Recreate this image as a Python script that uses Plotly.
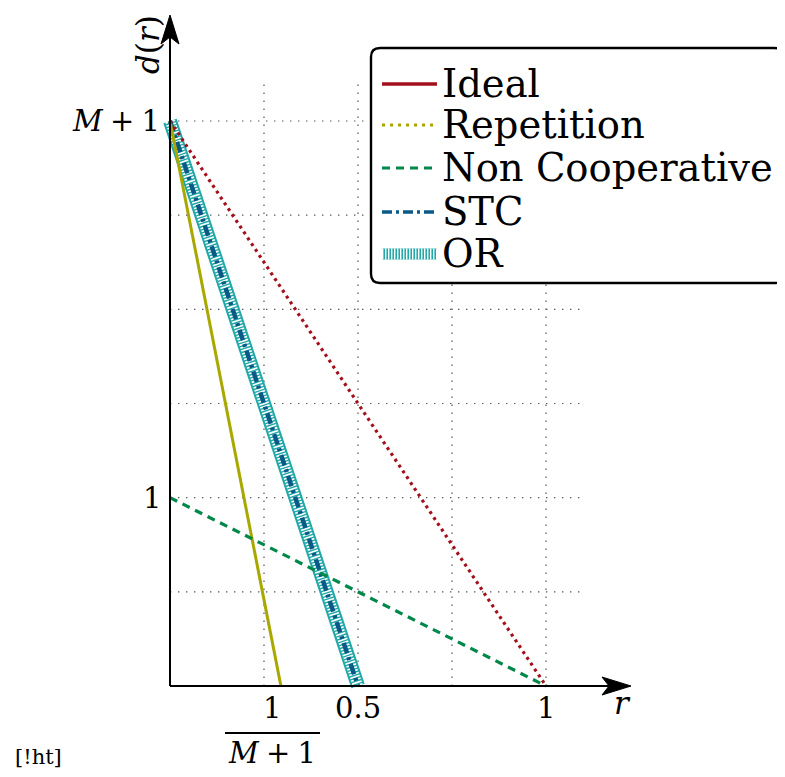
import plotly.graph_objects as go

# ---------------- data ----------------
M_PLUS_1 = 3.0
r_ideal = [0.0, 1.0]
d_ideal = [M_PLUS_1, 0.0]
r_rep = [0.0, 0.295]
d_rep = [M_PLUS_1, 0.0]
r_noncoop = [0.0, 1.0]
d_noncoop = [1.0, 0.0]
r_stc = [0.0, 0.5]
d_stc = [M_PLUS_1, 0.0]
r_or = [0.0, 0.5]
d_or = [M_PLUS_1, 0.0]

xgrid = [0.25, 0.5, 0.75, 1.0]
ygrid = [0.5, 1.0, 1.5, 2.0, 2.5, 3.0]
grid_xmax = 1.1
grid_ymax = 3.2

xtick_vals = [0.27, 0.5, 1.0]
ytick_vals = [1.0, M_PLUS_1]
MP1 = "<i>M</i>\u2005+\u20051"
ytick_text = ["1", MP1]

legend_names = ["Ideal", "Repetition", "Non Cooperative", "STC", "OR"]

# ---------------- pixel helpers (reference-image pixels) ----------------
OFF = 8  # page body margin
W, H = 785 - OFF, 777 - OFF
X0, XS = 170.0, 376.0
Y0, YS = 686.0, 188.33


def X(px):
    return (px - X0) / XS


def Y(py):
    return (Y0 - py) / YS


RED = "#a3101c"
OLIVE = "#a8a800"
GREEN = "#00874a"
BLUE = "#0a5a88"
TEAL = "#22a8a8"
FONT = "DejaVu Serif"

fig = go.Figure()

# OR (hatched thick band)
fig.add_trace(go.Scatter(x=r_or, y=d_or, mode="lines",
                         line=dict(color=TEAL, width=14), showlegend=False, hoverinfo="skip"))
fig.add_trace(go.Scatter(x=r_or, y=d_or, mode="lines",
                         line=dict(color="white", width=10, dash="1.6px,1.4px"),
                         showlegend=False, hoverinfo="skip"))
# STC
fig.add_trace(go.Scatter(x=r_stc, y=d_stc, mode="lines",
                         line=dict(color=BLUE, width=4.5, dash="11px,4px,3px,4px"),
                         showlegend=False, hoverinfo="skip"))
# Repetition
fig.add_trace(go.Scatter(x=r_rep, y=d_rep, mode="lines",
                         line=dict(color=OLIVE, width=3), showlegend=False, hoverinfo="skip"))
# Ideal
fig.add_trace(go.Scatter(x=r_ideal, y=d_ideal, mode="lines",
                         line=dict(color=RED, width=3.2, dash="3px,4px"),
                         showlegend=False, hoverinfo="skip"))
# Non cooperative
fig.add_trace(go.Scatter(x=r_noncoop, y=d_noncoop, mode="lines",
                         line=dict(color=GREEN, width=3.2, dash="8px,6px"),
                         showlegend=False, hoverinfo="skip"))

shapes = []
# grid
for gx in xgrid:
    shapes.append(dict(type="line", x0=gx, x1=gx, y0=0, y1=grid_ymax, layer="below",
                       line=dict(color="#555555", width=1.2, dash="1.4px,6.6px")))
for gy in ygrid:
    shapes.append(dict(type="line", x0=0, x1=grid_xmax, y0=gy, y1=gy, layer="below",
                       line=dict(color="#555555", width=1.2, dash="1.4px,6.6px")))

# axes
shapes.append(dict(type="line", x0=0, x1=X(612), y0=0, y1=0, layer="above",
                   line=dict(color="black", width=2)))
shapes.append(dict(type="line", x0=0, x1=0, y0=0, y1=Y(35), layer="above",
                   line=dict(color="black", width=2)))
# arrowheads
tipx, tipy = 631, 686
shapes.append(dict(type="path", layer="above", fillcolor="black", line=dict(color="black", width=1),
                   path=f"M {X(tipx)},{Y(tipy)} L {X(tipx-29)},{Y(tipy-9)} L {X(tipx-22)},{Y(tipy)} "
                        f"L {X(tipx-29)},{Y(tipy+9)} Z"))
tx, ty = 170, 15
shapes.append(dict(type="path", layer="above", fillcolor="black", line=dict(color="black", width=1),
                   path=f"M {X(tx)},{Y(ty)} L {X(tx-9)},{Y(ty+29)} L {X(tx)},{Y(ty+22)} "
                        f"L {X(tx+9)},{Y(ty+29)} Z"))

# fraction bar
shapes.append(dict(type="line", x0=X(225), x1=X(320), y0=Y(733), y1=Y(733), layer="above",
                   line=dict(color="black", width=2)))

# legend box (rounded)
bx0, by0, bx1, by1, rr = 371, 48, 783, 283, 9
path = (f"M {X(bx0+rr)},{Y(by0)} L {X(bx1-rr)},{Y(by0)} "
        f"Q {X(bx1)},{Y(by0)} {X(bx1)},{Y(by0+rr)} L {X(bx1)},{Y(by1-rr)} "
        f"Q {X(bx1)},{Y(by1)} {X(bx1-rr)},{Y(by1)} L {X(bx0+rr)},{Y(by1)} "
        f"Q {X(bx0)},{Y(by1)} {X(bx0)},{Y(by1-rr)} L {X(bx0)},{Y(by0+rr)} "
        f"Q {X(bx0)},{Y(by0)} {X(bx0+rr)},{Y(by0)} Z")
shapes.append(dict(type="path", path=path, layer="above", fillcolor="white",
                   line=dict(color="black", width=2.4)))

# legend samples
ly = [84, 125, 168, 212, 254]
lx0, lx1 = 382, 437
styles = [
    [dict(color=RED, width=3.5)],
    [dict(color=OLIVE, width=3, dash="3px,5px")],
    [dict(color=GREEN, width=3.2, dash="8px,6px")],
    [dict(color=BLUE, width=3.5, dash="10px,4px,3px,4px")],
    [dict(color=TEAL, width=11), dict(color="white", width=11, dash="1.4px,1.6px")],
]
for yy, sty in zip(ly, styles):
    for s in sty:
        shapes.append(dict(type="line", x0=X(lx0), x1=X(lx1), y0=Y(yy), y1=Y(yy),
                           layer="above", line=s))

annotations = []
for yy, name in zip(ly, legend_names):
    annotations.append(dict(x=X(440), y=Y(yy - 1), text=name, showarrow=False,
                            xanchor="left", yanchor="middle",
                            font=dict(family=FONT, size=38.5, color="black")))

TF = dict(family=FONT, size=29, color="black")
# y tick labels
annotations.append(dict(x=X(162), y=ytick_vals[1], text=ytick_text[1], showarrow=False,
                        xanchor="right", yanchor="middle", font=TF))
annotations.append(dict(x=X(163), y=ytick_vals[0], text=ytick_text[0], showarrow=False,
                        xanchor="right", yanchor="middle", font=TF))
# x tick labels
annotations.append(dict(x=xtick_vals[0], y=Y(708), text="1", showarrow=False,
                        xanchor="center", yanchor="middle", font=TF))
annotations.append(dict(x=xtick_vals[0], y=Y(753), text=MP1, showarrow=False,
                        xanchor="center", yanchor="middle", font=TF))
annotations.append(dict(x=xtick_vals[1], y=Y(708), text="0.5", showarrow=False,
                        xanchor="center", yanchor="middle", font=TF))
annotations.append(dict(x=xtick_vals[2], y=Y(708), text="1", showarrow=False,
                        xanchor="center", yanchor="middle", font=TF))
# axis titles
annotations.append(dict(x=X(622), y=Y(703), text="<i>r</i>", showarrow=False,
                        xanchor="center", yanchor="middle",
                        font=dict(family=FONT, size=31, color="black")))
annotations.append(dict(x=X(148), y=Y(45), text="<i>d</i>(<i>r</i>)", showarrow=False,
                        textangle=-90, xanchor="center", yanchor="middle",
                        font=dict(family=FONT, size=31, color="black")))
annotations.append(dict(x=X(13), y=Y(757), text="[!ht]", showarrow=False,
                        xanchor="left", yanchor="middle",
                        font=dict(family=FONT, size=21, color="black")))

fig.update_layout(
    width=W, height=H,
    margin=dict(l=0, r=0, t=0, b=0),
    plot_bgcolor="white", paper_bgcolor="white",
    xaxis=dict(range=[X(OFF), X(785)], visible=False, fixedrange=True),
    yaxis=dict(range=[Y(777), Y(OFF)], visible=False, fixedrange=True),
    shapes=shapes, annotations=annotations, showlegend=False,
)

fig.write_html("out.html")
